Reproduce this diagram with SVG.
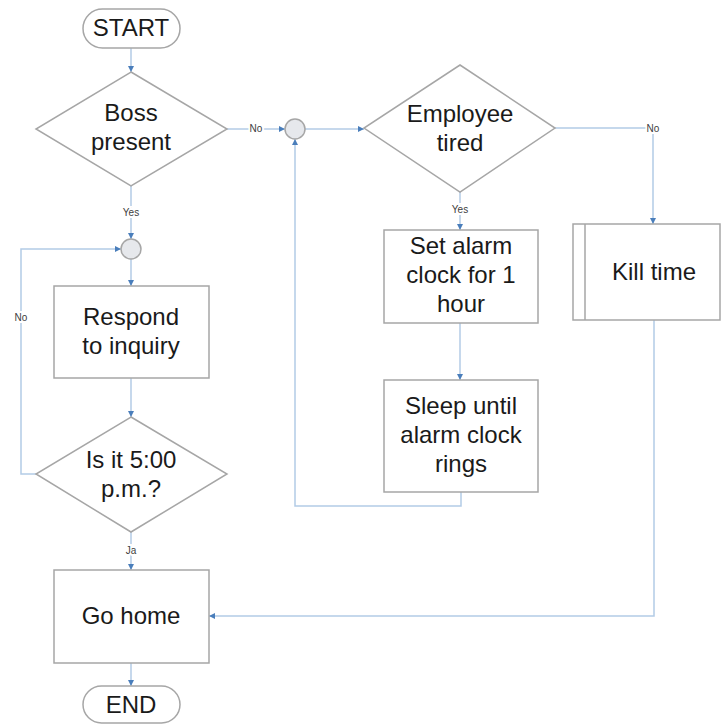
<svg xmlns="http://www.w3.org/2000/svg" width="721" height="724" viewBox="0 0 721 724">
  <style>
    .node { fill: #ffffff; stroke: #a6a6a6; stroke-width: 1.5; }
    .join { fill: #e6e8ec; stroke: #a6a6a6; stroke-width: 1.5; }
    .txt { font-family: "Liberation Sans", Arial, sans-serif; font-size: 24px; fill: #1a1a1a; text-anchor: middle; }
    .edge { fill: none; stroke: #b3cbe6; stroke-width: 1.5; }
    .lbl { font-family: "Liberation Sans", Arial, sans-serif; font-size: 10px; fill: #404040; text-anchor: middle; stroke: #ffffff; stroke-width: 4; paint-order: stroke; }
  </style>
  <defs>
    <marker id="arrow" viewBox="0 0 10 10" refX="10" refY="5" markerWidth="6" markerHeight="6" orient="auto" markerUnits="userSpaceOnUse">
      <path d="M0,0 L10,5 L0,10 z" fill="#4a7ebb"/>
    </marker>
  </defs>
  <rect width="721" height="724" fill="#ffffff"/>

  <!-- connectors -->
  <g id="connectors">
    <path class="edge" d="M131,48 V72" marker-end="url(#arrow)"/>
    <path class="edge" d="M131,186 V239" marker-end="url(#arrow)"/>
    <path class="edge" d="M131,259 V286" marker-end="url(#arrow)"/>
    <path class="edge" d="M131,378 V417" marker-end="url(#arrow)"/>
    <path class="edge" d="M36,474 H21 V249 H121" marker-end="url(#arrow)"/>
    <path class="edge" d="M131,532 V570" marker-end="url(#arrow)"/>
    <path class="edge" d="M131,663 V686" marker-end="url(#arrow)"/>
    <path class="edge" d="M227,129 H285" marker-end="url(#arrow)"/>
    <path class="edge" d="M305,129 H364" marker-end="url(#arrow)"/>
    <path class="edge" d="M460,192 V230" marker-end="url(#arrow)"/>
    <path class="edge" d="M460,323 V380" marker-end="url(#arrow)"/>
    <path class="edge" d="M461,492 V506 H295 V139" marker-end="url(#arrow)"/>
    <path class="edge" d="M555,128 H653 V224" marker-end="url(#arrow)"/>
    <path class="edge" d="M654,320 V616 H209" marker-end="url(#arrow)"/>
    <text class="lbl" x="131" y="216">Yes</text>
    <text class="lbl" x="21" y="321">No</text>
    <text class="lbl" x="131" y="554">Ja</text>
    <text class="lbl" x="256" y="132">No</text>
    <text class="lbl" x="460" y="213">Yes</text>
    <text class="lbl" x="653" y="132">No</text>
  </g>

  <g id="start">
    <rect class="node" x="83" y="9" width="97" height="39" rx="19.5"/>
    <text class="txt" x="131" y="36">START</text>
  </g>

  <g id="boss-present">
    <polygon class="node" points="131,72 227,129 131,186 36,129"/>
    <text class="txt" x="131" y="121">Boss</text>
    <text class="txt" x="131" y="150">present</text>
  </g>

  <g id="join-left">
    <circle class="join" cx="131" cy="249" r="10"/>
  </g>

  <g id="respond">
    <rect class="node" x="54" y="286" width="155" height="92"/>
    <text class="txt" x="131" y="325">Respond</text>
    <text class="txt" x="131" y="354">to inquiry</text>
  </g>

  <g id="is-it-five">
    <polygon class="node" points="131,417 227,474 131,532 36,474"/>
    <text class="txt" x="131" y="468">Is it 5:00</text>
    <text class="txt" x="131" y="497">p.m.?</text>
  </g>

  <g id="go-home">
    <rect class="node" x="54" y="570" width="155" height="93"/>
    <text class="txt" x="131" y="624">Go home</text>
  </g>

  <g id="end">
    <rect class="node" x="83" y="686" width="97" height="37" rx="18.5"/>
    <text class="txt" x="131" y="713">END</text>
  </g>

  <g id="join-right">
    <circle class="join" cx="295" cy="129" r="10"/>
  </g>

  <g id="employee-tired">
    <polygon class="node" points="460,65 555,128 460,192 364,128"/>
    <text class="txt" x="460" y="122">Employee</text>
    <text class="txt" x="460" y="151">tired</text>
  </g>

  <g id="set-alarm">
    <rect class="node" x="384" y="230" width="154" height="93"/>
    <text class="txt" x="461" y="254">Set alarm</text>
    <text class="txt" x="461" y="283">clock for 1</text>
    <text class="txt" x="461" y="312">hour</text>
  </g>

  <g id="sleep">
    <rect class="node" x="384" y="380" width="154" height="112"/>
    <text class="txt" x="461" y="414">Sleep until</text>
    <text class="txt" x="461" y="443">alarm clock</text>
    <text class="txt" x="461" y="472">rings</text>
  </g>

  <g id="kill-time">
    <rect class="node" x="573" y="224" width="147" height="96"/>
    <line x1="585" y1="224" x2="585" y2="320" stroke="#a6a6a6" stroke-width="1.5"/>
    <text class="txt" x="654" y="280">Kill time</text>
  </g>
</svg>
